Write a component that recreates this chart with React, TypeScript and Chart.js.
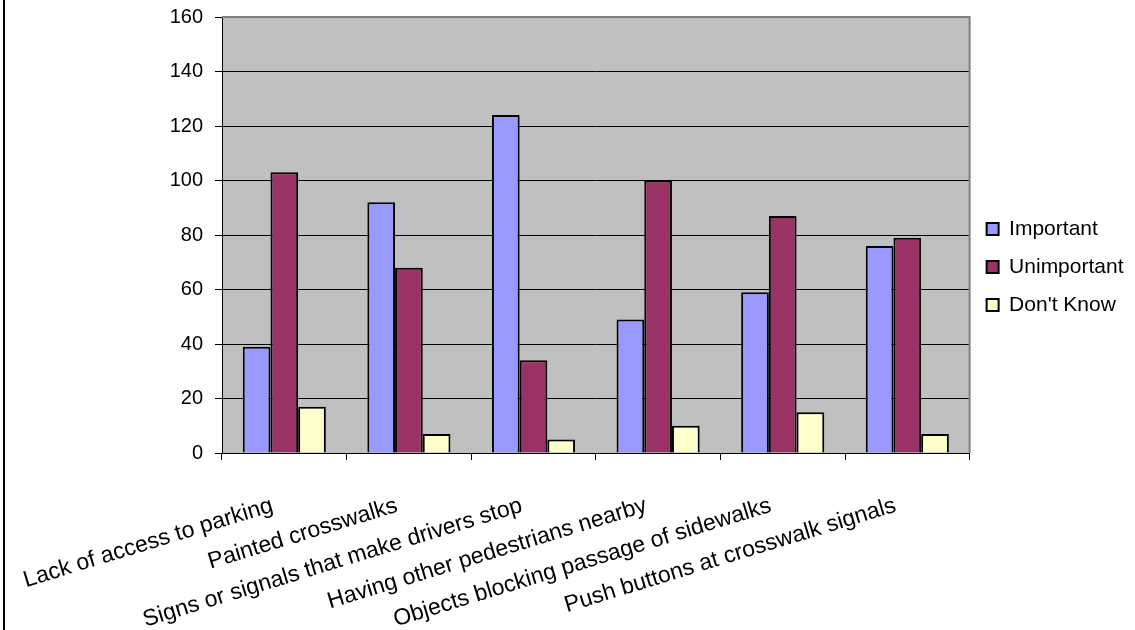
import React, { useEffect, useRef } from 'react';
import { Chart, registerables } from 'chart.js';

Chart.register(...registerables);

const categories = [
  'Lack of access to parking',
  'Painted crosswalks',
  'Signs or signals that make drivers stop',
  'Having other pedestrians nearby',
  'Objects blocking passage of sidewalks',
  'Push buttons at crosswalk signals',
];
const seriesNames = ['Important', 'Unimportant', "Don't Know"];
const important = [39, 92, 124, 49, 59, 76];
const unimportant = [103, 68, 34, 100, 87, 79];
const dontKnow = [17, 7, 5, 10, 15, 7];
const seriesColors = ['#9999FF', '#993366', '#FFFFCC'];
const yMin = 0;
const yMax = 160;
const yStep = 20;

const FONT = '"Liberation Sans", Arial, sans-serif';

const plotBackground = {
  id: 'plotBackground',
  beforeDraw(chart: any) {
    const { ctx, chartArea } = chart;
    const { left, top, right, bottom } = chartArea;
    ctx.save();
    ctx.fillStyle = '#C0C0C0';
    ctx.fillRect(left, top, right - left, bottom - top);
    ctx.restore();
  },
  beforeDatasetsDraw(chart: any) {
    const { ctx, chartArea } = chart;
    const { left, top, right, bottom } = chartArea;
    ctx.save();
    ctx.strokeStyle = '#808080';
    ctx.lineWidth = 2;
    ctx.beginPath();
    ctx.moveTo(left, top);
    ctx.lineTo(right, top);
    ctx.lineTo(right, bottom);
    ctx.stroke();
    ctx.restore();
  },
};

export default function App() {
  const canvasRef = useRef<HTMLCanvasElement | null>(null);

  useEffect(() => {
    if (!canvasRef.current) return;
    const data = [important, unimportant, dontKnow];
    const chart = new Chart(canvasRef.current, {
      type: 'bar',
      data: {
        labels: categories,
        datasets: seriesNames.map((name, i) => ({
          label: name,
          data: data[i],
          backgroundColor: seriesColors[i],
          borderColor: '#000000',
          borderWidth: 2,
          categoryPercentage: 0.667,
          barPercentage: 1,
        })),
      },
      options: {
        animation: false,
        responsive: true,
        maintainAspectRatio: false,
        layout: { padding: { top: 17, bottom: 0, left: 0, right: 1.5 } },
        plugins: {
          tooltip: { enabled: false },
          legend: {
            position: 'right',
            align: 'start',
            title: {
              display: true,
              text: ' ',
              color: 'rgba(0,0,0,0)',
              font: { size: 10, lineHeight: 1.2 },
              padding: { top: 0, bottom: 172.5 },
            },
            labels: {
              color: '#000',
              font: { family: FONT, size: 21 },
              boxWidth: 12,
              boxHeight: 12,
              padding: 17,
            },
          },
        },
        scales: {
          x: {
            grid: {
              drawOnChartArea: false,
              drawTicks: true,
              tickLength: 7,
              color: '#000',
              offset: true,
            },
            border: { color: '#000', width: 1 },
            ticks: {
              color: '#000',
              font: { family: FONT, size: 23 },
              minRotation: 17,
              maxRotation: 17,
              autoSkip: false,
              labelOffset: -12,
              padding: 32,
            },
            afterFit(scale: any) {
              scale.height = 177;
              scale.paddingLeft = 0;
              scale.paddingRight = 0;
            },
          },
          y: {
            min: yMin,
            max: yMax,
            grid: { color: '#000', lineWidth: 1, tickLength: 7, drawTicks: true },
            border: { color: '#000', width: 1 },
            ticks: {
              stepSize: yStep,
              color: '#000',
              font: { family: FONT, size: 20 },
              padding: 12,
            },
            afterFit(scale: any) {
              scale.width = 222;
              scale.paddingTop = 0;
              scale.paddingBottom = 0;
            },
          },
        },
      },
      plugins: [plotBackground],
    });
    return () => chart.destroy();
  }, []);

  return (
    <div
      style={{
        position: 'fixed',
        left: 0,
        top: 0,
        width: 1135,
        height: 630,
        background: '#fff',
      }}
    >
      <div
        style={{
          position: 'absolute',
          left: 3,
          top: 0,
          width: 2,
          height: 630,
          background: '#000',
        }}
      />
      <canvas ref={canvasRef} />
    </div>
  );
}
